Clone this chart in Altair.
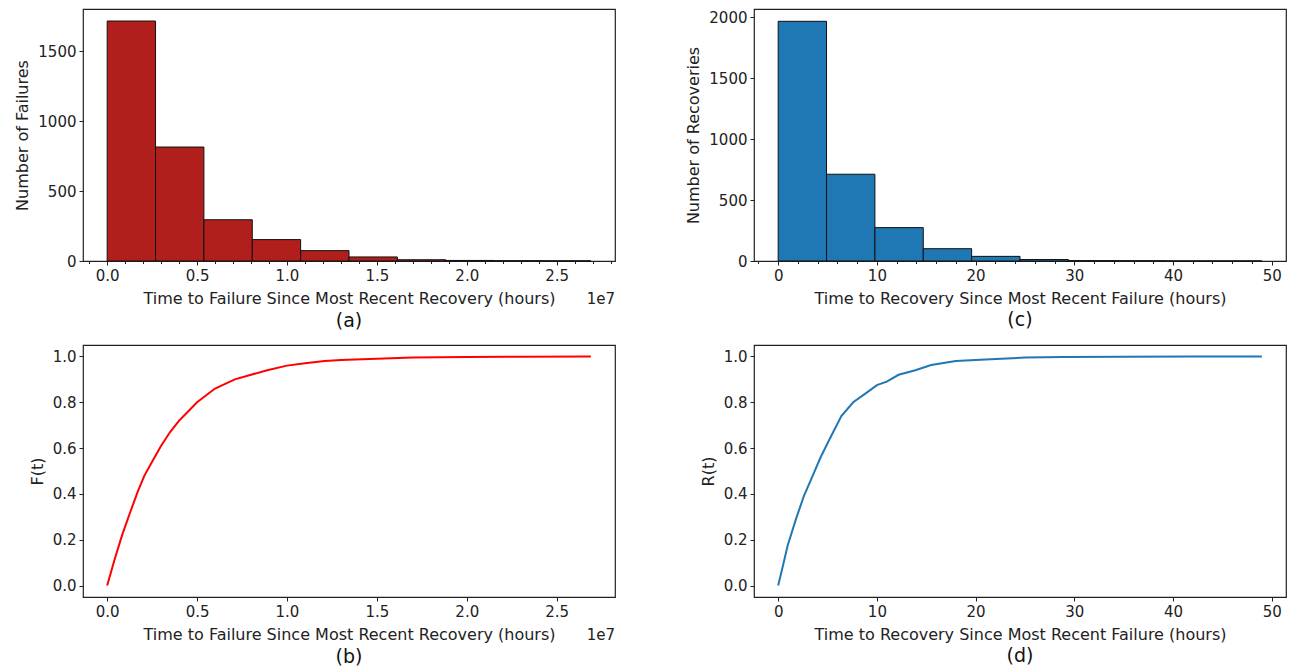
import altair as alt
import pandas as pd

# ---------------- data ----------------
# (a) histogram of time to failure, x in units of 1e7 hours
fail_bin_start = [0.0, 0.269, 0.538, 0.807, 1.076, 1.345, 1.614, 1.883, 2.152, 2.421]
fail_bin_end = [0.269, 0.538, 0.807, 1.076, 1.345, 1.614, 1.883, 2.152, 2.421, 2.69]
fail_counts = [1716, 815, 295, 153, 74, 29, 9, 4, 2, 1]

# (c) histogram of time to recovery, hours
rec_bin_start = [0.0, 4.9, 9.8, 14.7, 19.6, 24.5, 29.4, 34.3, 39.2, 44.1]
rec_bin_end = [4.9, 9.8, 14.7, 19.6, 24.5, 29.4, 34.3, 39.2, 44.1, 49.0]
rec_counts = [1967, 712, 274, 101, 38, 12, 3, 2, 1, 1]

# (b) empirical CDF F(t), t in units of 1e7 hours
f_t = [0.0, 0.04, 0.083, 0.128, 0.17, 0.207, 0.26, 0.30, 0.35, 0.40, 0.45, 0.50,
       0.60, 0.71, 0.80, 0.89, 1.00, 1.10, 1.21, 1.30, 1.50, 1.70, 2.00, 2.30, 2.69]
f_val = [0.0, 0.11, 0.22, 0.32, 0.41, 0.48, 0.555, 0.61, 0.67, 0.72, 0.76, 0.80,
         0.86, 0.90, 0.92, 0.94, 0.96, 0.97, 0.98, 0.985, 0.99, 0.995, 0.998, 0.999, 1.0]

# (d) empirical CDF R(t), hours
r_t = [0.0, 0.5, 0.96, 1.8, 2.6, 3.5, 4.3, 5.1, 6.4, 7.6, 8.9, 10.0, 11.0, 12.2,
       13.9, 15.5, 18.0, 20.0, 22.6, 25.0, 28.9, 35.0, 42.0, 49.0]
r_val = [0.0, 0.09, 0.175, 0.29, 0.39, 0.48, 0.56, 0.63, 0.74, 0.80, 0.84, 0.875,
         0.89, 0.92, 0.94, 0.963, 0.98, 0.985, 0.99, 0.995, 0.998, 0.999, 1.0, 1.0]

X_TITLE_F = "Time to Failure Since Most Recent Recovery (hours)"
X_TITLE_R = "Time to Recovery Since Most Recent Failure (hours)"

W, H = 532, 252
FONT = "DejaVu Sans"
TXT = "#222222"

df_a = pd.DataFrame({"start": fail_bin_start, "end": fail_bin_end, "count": fail_counts})
df_c = pd.DataFrame({"start": rec_bin_start, "end": rec_bin_end, "count": rec_counts})
df_b = pd.DataFrame({"t": f_t, "F": f_val})
df_d = pd.DataFrame({"t": r_t, "R": r_val})
df_off = pd.DataFrame({"txt": ["1e7"]})


def panel_title(s):
    return alt.TitleParams(text=s, orient="bottom", fontSize=19, fontWeight="normal",
                           font=FONT, color="#111111", offset=5)


def offset_text():
    return alt.Chart(df_off).mark_text(
        align="right", baseline="middle", fontSize=15, font=FONT, color=TXT
    ).encode(text="txt:N", x=alt.value(W), y=alt.value(H + 38))


# ---- (a)
xa_scale = alt.Scale(domain=[-0.1345, 2.8245], nice=False, zero=False)
a_bars = alt.Chart(df_a).mark_bar(color="#b01f1c", stroke="#111111", strokeWidth=1).encode(
    x=alt.X("start:Q", scale=xa_scale,
            axis=alt.Axis(values=[0, 0.5, 1.0, 1.5, 2.0, 2.5], format=".1f", title=X_TITLE_F,
                          orient="bottom")),
    x2="end:Q",
    y=alt.Y("count:Q", scale=alt.Scale(domain=[0, 1802], nice=False),
            axis=alt.Axis(values=[0, 500, 1000, 1500], format="d", title="Number of Failures")),
    y2=alt.datum(0),
)
a_minor = alt.Chart(df_a).mark_point(opacity=0).encode(
    x=alt.X("start:Q", scale=xa_scale,
            axis=alt.Axis(values=[-0.1, 0.1, 0.2, 0.3, 0.4, 0.6, 0.7, 0.8, 0.9, 1.1, 1.2, 1.3, 1.4,
                                  1.6, 1.7, 1.8, 1.9, 2.1, 2.2, 2.3, 2.4, 2.6, 2.7, 2.8],
                          labels=False, title=None, tickSize=2.5, orient="bottom")),
)
chart_a = alt.layer(a_bars, a_minor, offset_text()).resolve_axis(x="independent").properties(
    width=W, height=H, title=panel_title("(a)"))

# ---- (c)
xc_scale = alt.Scale(domain=[-2.45, 51.45], nice=False, zero=False)
c_bars = alt.Chart(df_c).mark_bar(color="#1f77b4", stroke="#111111", strokeWidth=1).encode(
    x=alt.X("start:Q", scale=xc_scale,
            axis=alt.Axis(values=[0, 10, 20, 30, 40, 50], title=X_TITLE_R, orient="bottom")),
    x2="end:Q",
    y=alt.Y("count:Q", scale=alt.Scale(domain=[0, 2068], nice=False),
            axis=alt.Axis(values=[0, 500, 1000, 1500, 2000], format="d",
                          title="Number of Recoveries")),
    y2=alt.datum(0),
)
c_minor = alt.Chart(df_c).mark_point(opacity=0).encode(
    x=alt.X("start:Q", scale=xc_scale,
            axis=alt.Axis(values=[-2, 2, 4, 6, 8, 12, 14, 16, 18, 22, 24, 26, 28, 32, 34, 36, 38,
                                  42, 44, 46, 48],
                          labels=False, title=None, tickSize=2.5, orient="bottom")),
)
chart_c = alt.layer(c_bars, c_minor).resolve_axis(x="independent").properties(
    width=W, height=H, title=panel_title("(c)"))

# ---- (b)
b_line = alt.Chart(df_b).mark_line(color="#ff0000", strokeWidth=2).encode(
    x=alt.X("t:Q", scale=xa_scale,
            axis=alt.Axis(values=[0, 0.5, 1.0, 1.5, 2.0, 2.5], format=".1f", title=X_TITLE_F)),
    y=alt.Y("F:Q", scale=alt.Scale(domain=[-0.05, 1.05], nice=False, zero=False),
            axis=alt.Axis(values=[0, 0.2, 0.4, 0.6, 0.8, 1.0], format=".1f", title="F(t)")),
)
chart_b = alt.layer(b_line, offset_text()).properties(width=W, height=H, title=panel_title("(b)"))

# ---- (d)
d_line = alt.Chart(df_d).mark_line(color="#1f77b4", strokeWidth=2).encode(
    x=alt.X("t:Q", scale=xc_scale,
            axis=alt.Axis(values=[0, 10, 20, 30, 40, 50], title=X_TITLE_R)),
    y=alt.Y("R:Q", scale=alt.Scale(domain=[-0.05, 1.05], nice=False, zero=False),
            axis=alt.Axis(values=[0, 0.2, 0.4, 0.6, 0.8, 1.0], format=".1f", title="R(t)")),
)
chart_d = alt.layer(d_line).properties(width=W, height=H, title=panel_title("(d)"))

chart = alt.concat(chart_a, chart_c, chart_b, chart_d, columns=2,
                   spacing={"row": 12, "column": 69}).properties(
    padding={"left": 6, "top": 0, "right": 0, "bottom": 0}
).configure_view(
    stroke="#222222", strokeWidth=1.2
).configure_axis(
    grid=False, domain=False, labelFont=FONT, titleFont=FONT, labelFontSize=15,
    titleFontSize=16, titleFontWeight="normal", labelColor=TXT, titleColor=TXT,
    tickColor=TXT, tickSize=4, labelPadding=3, titlePadding=7
)

chart.save("out.html", embed_options={"renderer": "svg", "actions": False})
